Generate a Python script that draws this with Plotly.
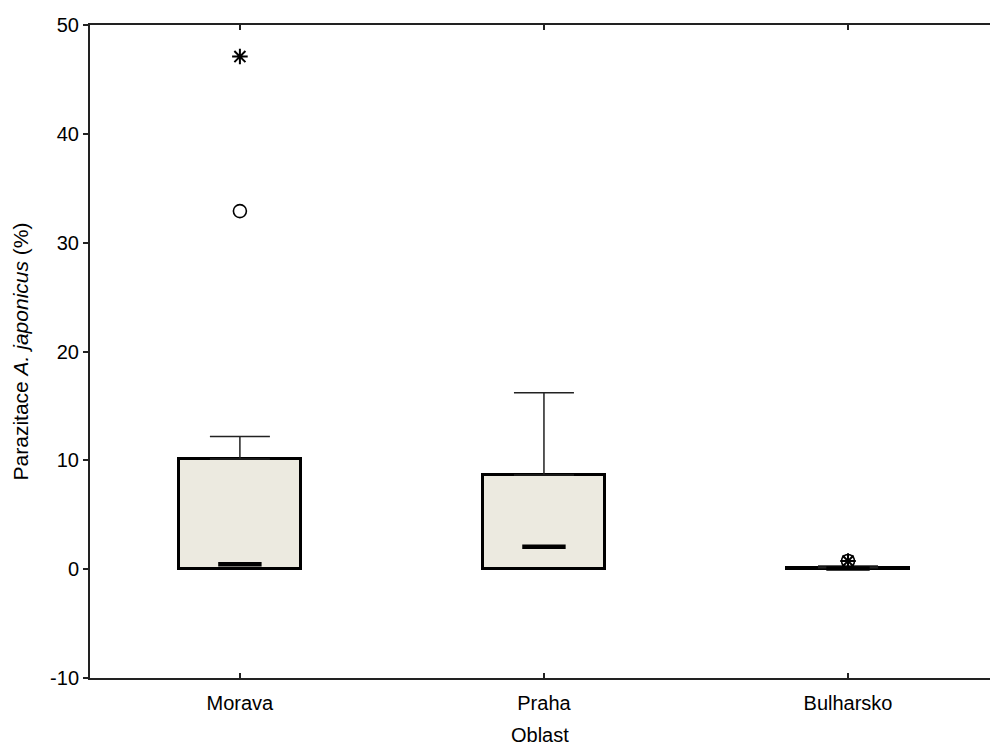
import plotly.graph_objects as go

categories = ["Morava", "Praha", "Bulharsko"]
q1 = [0.0, 0.0, 0.0]
q3 = [10.13, 8.66, 0.12]
median = [0.45, 2.05, 0.05]
whisk_max = [12.18, 16.2, 0.3]
outlier_cat = ["Morava", "Bulharsko"]
outlier_val = [32.9, 0.75]
extreme_cat = ["Morava", "Bulharsko"]
extreme_val = [47.1, 0.75]
ytick_vals = [-10, 0, 10, 20, 30, 40, 50]
ytick_text = ["-10", "0", "10", "20", "30", "40", "50"]

xidx = {c: i for i, c in enumerate(categories)}
xs = list(range(len(categories)))

fig = go.Figure()
# whiskers (drawn first, under boxes)
fig.add_trace(go.Scatter(
    x=xs, y=q3, mode="markers", marker=dict(size=1, color="rgba(0,0,0,0)"),
    error_y=dict(type="data", symmetric=False,
                 array=[m - t for m, t in zip(whisk_max, q3)],
                 arrayminus=[0, 0, 0], width=30, thickness=1.5, color="#222222"),
    showlegend=False, hoverinfo="skip"))
# boxes
fig.add_trace(go.Bar(
    x=xs, y=[b - a for a, b in zip(q1, q3)], base=q1, width=0.4,
    marker=dict(color="#ECEAE0", line=dict(color="black", width=3)),
    showlegend=False))
# medians
fig.add_trace(go.Scatter(
    x=xs, y=median, mode="markers",
    marker=dict(symbol="line-ew-open", size=31, color="black",
                line=dict(color="black", width=4.5)),
    showlegend=False))
# outliers
fig.add_trace(go.Scatter(
    x=[xidx[c] for c in outlier_cat], y=outlier_val, mode="markers",
    marker=dict(symbol="circle-open", size=13, color="black", line=dict(width=1.6)),
    showlegend=False))
fig.add_trace(go.Scatter(
    x=[xidx[c] for c in extreme_cat], y=extreme_val, mode="markers",
    marker=dict(symbol="asterisk-open", size=13, color="black", line=dict(width=2)),
    showlegend=False))

font = "Liberation Sans, Arial, sans-serif"
fig.update_layout(
    width=990, height=745,
    margin=dict(l=90, r=0, t=25, b=67),
    paper_bgcolor="white", plot_bgcolor="white",
    font=dict(family=font, size=20, color="black"),
    bargap=0,
    xaxis=dict(range=[-0.493, 2.467], tickvals=xs, ticktext=categories,
               showline=True, linecolor="#222222", linewidth=2, mirror="ticks",
               ticks="inside", ticklen=5, tickwidth=1.5, tickcolor="#222222",
               ticklabelstandoff=6,
               showgrid=False, zeroline=False, tickfont=dict(size=20)),
    yaxis=dict(range=[-10, 50], tickvals=ytick_vals, ticktext=ytick_text,
               showline=True, linecolor="#222222", linewidth=2,
               ticks="outside", ticklen=5, tickwidth=1.5, tickcolor="#222222",
               showgrid=False, zeroline=False, tickfont=dict(size=20),
               title=dict(text="Parazitace <i>A. japonicus</i> (%)", font=dict(size=21), standoff=16)),
    annotations=[dict(text="Oblast", xref="paper", yref="paper", x=0.5, y=-0.087,
                      xanchor="center", yanchor="middle", showarrow=False,
                      font=dict(size=20))],
)

fig.write_html("out.html")
